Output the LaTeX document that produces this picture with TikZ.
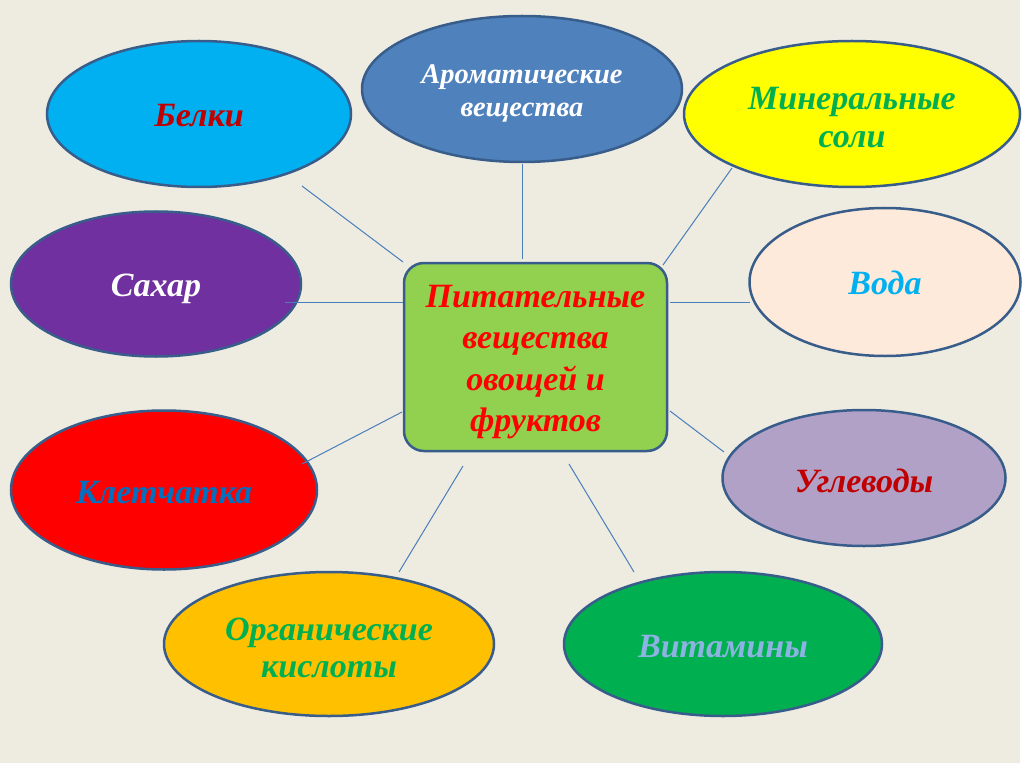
\documentclass[tikz,border=0pt]{standalone}
\usepackage{fontspec}
\setmainfont{Liberation Serif}
\usetikzlibrary{shapes.geometric}
\definecolor{bgc}{HTML}{EEECE1}
\definecolor{edgec}{HTML}{385D8A}
\definecolor{linec}{HTML}{4A7EBB}
\definecolor{cBelki}{HTML}{00B0F0}
\definecolor{cArom}{HTML}{4F81BD}
\definecolor{cMin}{HTML}{FFFF00}
\definecolor{cSakh}{HTML}{7030A0}
\definecolor{cVoda}{HTML}{FDEADA}
\definecolor{cBox}{HTML}{92D050}
\definecolor{cKlet}{HTML}{FF0000}
\definecolor{cUgl}{HTML}{B2A1C7}
\definecolor{cOrg}{HTML}{FFC000}
\definecolor{cVit}{HTML}{00B050}
\definecolor{tDarkRed}{HTML}{C00000}
\definecolor{tGreen}{HTML}{00B050}
\definecolor{tCyan}{HTML}{00B0F0}
\definecolor{tBlue}{HTML}{0070C0}
\definecolor{tLight}{HTML}{8DB3E2}
\begin{document}
\begin{tikzpicture}[x=1pt,y=-1pt,
  oval/.style={ellipse, draw=edgec, line width=2.5pt, inner sep=0pt},
  big/.style={font=\fontsize{34}{38}\selectfont\bfseries\itshape},
  conn/.style={draw=linec, line width=1pt},
  hub/.style={draw=edgec, line width=2.5pt, fill=cBox, rounded corners=20pt,
    minimum width=263pt, minimum height=188pt, inner sep=0pt},
  lbl/.style={align=center, inner sep=0pt}
]
\useasboundingbox (0,0) rectangle (1024,767);
\fill[white] (0,0) rectangle (1024,767);
\fill[bgc] (0,0) rectangle (1020,763);

% ellipses
\node[oval, fill=cBelki, minimum width=304pt, minimum height=146pt] (belki) at (199,114) {};
\node[oval, fill=cArom, minimum width=320pt, minimum height=146pt] (arom) at (522,89) {};
\node[oval, fill=cMin, minimum width=336pt, minimum height=146pt] (miner) at (852,114) {};
\node[oval, fill=cSakh, minimum width=290pt, minimum height=145pt] (sakhar) at (156,284) {};
\node[oval, fill=cVoda, minimum width=271pt, minimum height=148pt] (voda) at (885,282) {};
\node[oval, fill=cKlet, minimum width=306pt, minimum height=159pt] (klet) at (164,490) {};
\node[oval, fill=cUgl, minimum width=283pt, minimum height=136pt] (uglev) at (864,478) {};
\node[oval, fill=cOrg, minimum width=330pt, minimum height=144pt] (organ) at (329,644) {};
\node[oval, fill=cVit, minimum width=318pt, minimum height=144pt] (vitam) at (723,644) {};

% labels
\node[lbl, big, text=tDarkRed] (tbelki) at ([yshift=-2pt]belki.center) {Белки};
\node[lbl, font=\fontsize{28.5}{33}\selectfont\bfseries\itshape, text=white] (tarom)
  at ([yshift=-4pt]arom.center) {Ароматические\\вещества};
\node[lbl, big, text=tGreen] (tminer) at ([yshift=-4pt]miner.center) {Минеральные\\соли};
\node[lbl, big, text=white] (tsakhar) at ([yshift=-5pt]sakhar.center) {Сахар};
\node[lbl, big, text=tCyan] (tvoda) at ([yshift=-1pt]voda.center) {Вода};
\node[lbl, big, text=tBlue] (tklet) at ([yshift=-3pt]klet.center) {Клетчатка};
\node[lbl, big, text=tDarkRed] (tuglev) at ([yshift=-3pt]uglev.center) {Углеводы};
\node[lbl, font=\fontsize{34}{37}\selectfont\bfseries\itshape, text=tGreen] (torgan)
  at ([yshift=-4pt]organ.center) {Органические\\кислоты};
\node[lbl, big, text=tLight] (tvitam) at ([yshift=-3pt]vitam.center) {Витамины};

% central box
\node[hub] (hubnode) at (535.5,357) {};
\node[lbl, font=\fontsize{34}{41.5}\selectfont\bfseries\itshape, text=red] (hubtext)
  at ([yshift=-5pt]hubnode.center) {Питательные\\вещества\\овощей и\\фруктов};

% connector free ends
\coordinate (eBelki) at (302,186);
\coordinate (eArom) at (522,164);
\coordinate (eMin) at (732,168);
\coordinate (eSakh) at (285,302);
\coordinate (eVoda) at (750,302);
\coordinate (eKlet) at (302,464);
\coordinate (eOrg) at (399,572);
\coordinate (eUgl) at (724,452);
\coordinate (eVit) at (634,572);
\coordinate (hBelki) at (403,262);
\coordinate (hArom) at (522,259);
\coordinate (hMin) at (663,265);
\coordinate (hSakh) at (403,302);
\coordinate (hVoda) at (670,302);
\coordinate (hKlet) at (402,412);
\coordinate (hOrg) at (463,466);
\coordinate (hUgl) at (670,411);
\coordinate (hVit) at (569,464);

\draw[conn] (hBelki) -- (eBelki);
\draw[conn] (hArom) -- (eArom);
\draw[conn] (hMin) -- (eMin);
\draw[conn] (hSakh) -- (eSakh);
\draw[conn] (hVoda) -- (eVoda);
\draw[conn] (hKlet) -- (eKlet);
\draw[conn] (hOrg) -- (eOrg);
\draw[conn] (hUgl) -- (eUgl);
\draw[conn] (hVit) -- (eVit);
\end{tikzpicture}
\end{document}
